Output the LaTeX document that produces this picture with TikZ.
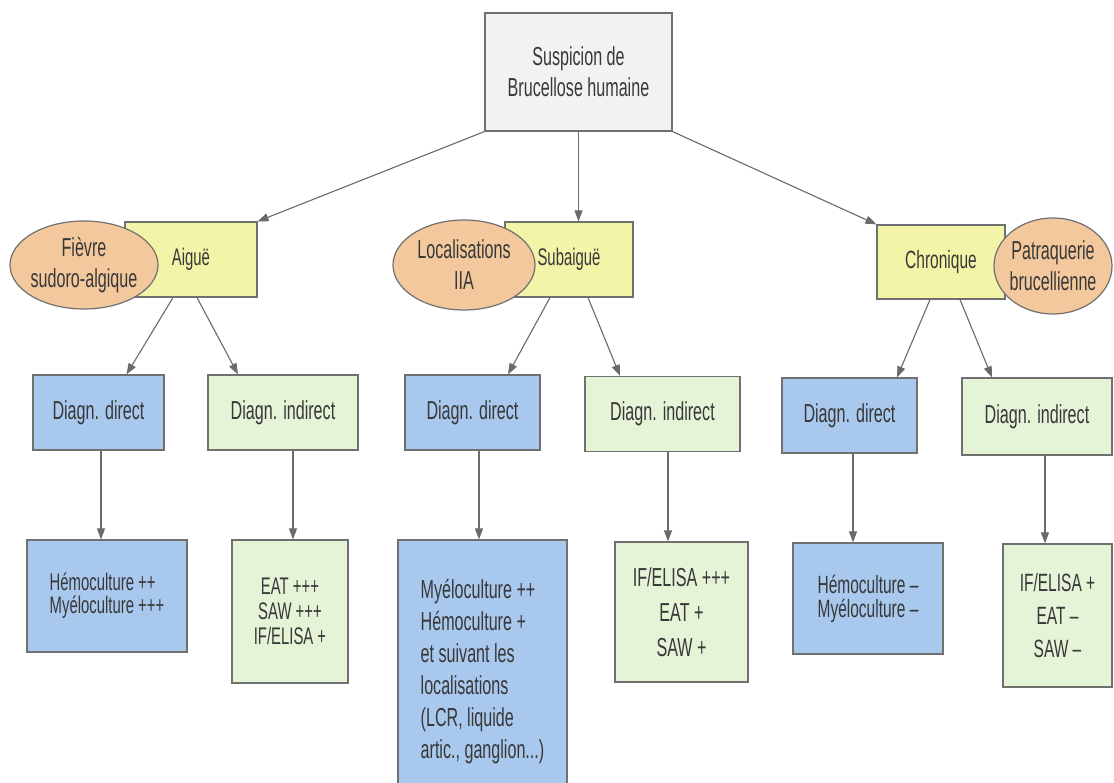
\documentclass[tikz,border=0pt]{standalone}
\usepackage{fontspec}
\setmainfont{Liberation Sans}[FakeStretch=0.62]
\usetikzlibrary{shapes.geometric,arrows.meta}
\definecolor{bordc}{HTML}{707070}
\definecolor{txtc}{HTML}{383838}
\definecolor{arrc}{HTML}{6A6A6A}
\definecolor{grayc}{HTML}{F2F2F2}
\definecolor{yelc}{HTML}{F3F4A8}
\definecolor{peachc}{HTML}{F2C89C}
\definecolor{bluec}{HTML}{A9C8EE}
\definecolor{greenc}{HTML}{E5F3D7}
\newcommand{\fs}[2]{\fontsize{#1}{#2}\selectfont}
\tikzset{
  base/.style={draw=bordc, line width=1.2pt, text=txtc, inner sep=0pt, align=center, font=\fs{26}{31}},
  topbox/.style={base, rectangle, fill=grayc},
  ybox/.style={base, rectangle, fill=yelc},
  ell/.style={base, ellipse, fill=peachc, inner sep=-20pt},
  bbox/.style={base, rectangle, fill=bluec},
  gbox/.style={base, rectangle, fill=greenc},
  arr/.style={draw=arrc, line width=1.1pt, -{Triangle[length=11pt,width=8pt]}}
}
\begin{document}
\begin{tikzpicture}[x=1pt,y=-1pt]
\fill[white] (0,0) rectangle (1114,783);
\useasboundingbox (0,0) rectangle (1114,783);

% top
\node[topbox, minimum width=187, minimum height=118] (top) at (578.5,72) {Suspicion de\\Brucellose humaine};

% level 1
\node[ybox, minimum width=132, minimum height=75, font=\fs{24}{28}] (aig) at (191,259.5) {Aiguë};
\node[ybox, minimum width=128, minimum height=75, font=\fs{24}{28}] (sub) at (569,259.5) {Subaiguë};
\node[ybox, minimum width=128, minimum height=74, font=\fs{25}{28}] (chr) at (941,262) {Chronique};
\node[ell, minimum width=148, minimum height=88] (e1) at (84,265) {Fièvre\\sudoro-algique};
\node[ell, minimum width=142, minimum height=90] (e2) at (464,265) {Localisations\\IIA};
\node[ell, minimum width=118, minimum height=96] (e3) at (1053,266) {Patraquerie\\brucellienne};

% level 2
\node[bbox, minimum width=131, minimum height=75] (add) at (98.5,412.5) {Diagn. direct};
\node[gbox, minimum width=150, minimum height=75] (adi) at (283,412.5) {Diagn. indirect};
\node[bbox, minimum width=135, minimum height=75] (sdd) at (472.5,412.5) {Diagn. direct};
\node[gbox, minimum width=155, minimum height=75] (sdi) at (662.5,414) {Diagn. indirect};
\node[bbox, minimum width=135, minimum height=75] (cdd) at (849.5,415.5) {Diagn. direct};
\node[gbox, minimum width=150, minimum height=77] (cdi) at (1037,416.5) {Diagn. indirect};

% level 3
\node[bbox, minimum width=160, minimum height=112, align=left, font=\fs{24}{23}] (adr) at (107,596) {Hémoculture ++\\Myéloculture +++};
\node[gbox, minimum width=116, minimum height=143, font=\fs{24}{25}] (air) at (290,611.5) {EAT +++\\SAW +++\\IF/ELISA +};
\node[bbox, minimum width=169, minimum height=264, align=left, font=\fs{26}{32}] (sdr) at (482.5,672) {Myéloculture ++\\Hémoculture +\\et suivant les\\localisations\\(LCR, liquide\\artic., ganglion...)};
\node[gbox, minimum width=133, minimum height=140, font=\fs{26}{35}] (sir) at (681.5,612) {IF/ELISA +++\\EAT +\\SAW +};
\node[bbox, minimum width=150, minimum height=111, align=left, font=\fs{25}{24}] (cdr) at (868,598.5) {Hémoculture –\\Myéloculture –};
\node[gbox, minimum width=109, minimum height=143, font=\fs{25}{33}] (cir) at (1057.5,615.5) {IF/ELISA +\\EAT –\\SAW –};

% arrows from top
\draw[arr] (top.south west) -- (aig.north east);
\draw[arr] (top.south) -- (top.south |- sub.north);
\draw[arr] (top.south east) -- (chr.north west);

% arrows level 1 -> 2
\draw[arr] ([xshift=-18]aig.south) -- ([xshift=28]add.north);
\draw[arr] ([xshift=6]aig.south) -- ([xshift=-45]adi.north);
\draw[arr] ([xshift=-19]sub.south) -- ([xshift=35.5]sdd.north);
\draw[arr] ([xshift=19]sub.south) -- ([xshift=-42.5]sdi.north);
\draw[arr] ([xshift=-11]chr.south) -- ([xshift=47.5]cdd.north);
\draw[arr] ([xshift=19]chr.south) -- ([xshift=-45]cdi.north);

% arrows level 2 -> 3
\draw[arr] ([xshift=2.5]add.south) -- ([xshift=2.5]add.south |- adr.north);
\draw[arr] ([xshift=10]adi.south) -- ([xshift=10]adi.south |- air.north);
\draw[arr] ([xshift=6.5]sdd.south) -- ([xshift=6.5]sdd.south |- sdr.north);
\draw[arr] ([xshift=5.5]sdi.south) -- ([xshift=5.5]sdi.south |- sir.north);
\draw[arr] ([xshift=3.5]cdd.south) -- ([xshift=3.5]cdd.south |- cdr.north);
\draw[arr] ([xshift=8]cdi.south) -- ([xshift=8]cdi.south |- cir.north);
\end{tikzpicture}
\end{document}
